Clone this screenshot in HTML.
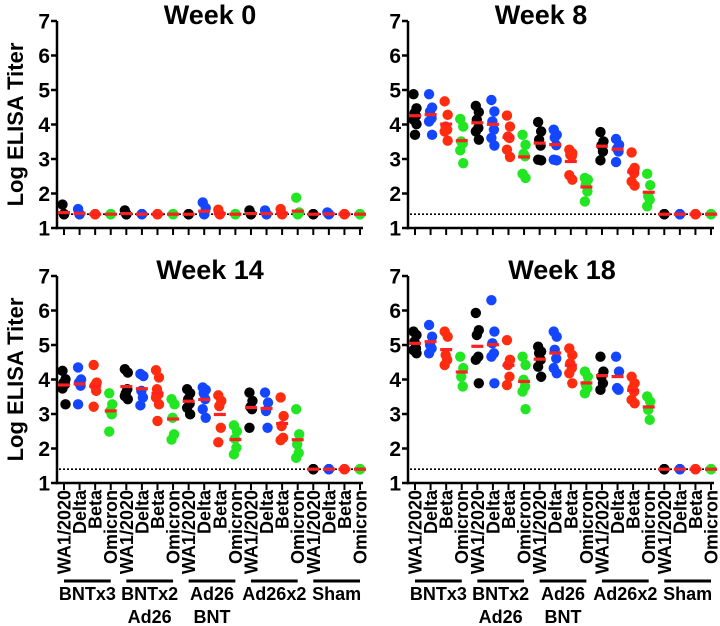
<!DOCTYPE html>
<html><head><meta charset="utf-8"><style>
body{margin:0;background:#fff}
svg{display:block;font-family:"Liberation Sans",Arial,sans-serif;font-weight:bold}
</style></head><body>
<svg id="c" width="720" height="626" viewBox="0 0 720 626" xmlns="http://www.w3.org/2000/svg"></svg>
<script>
const categories = ["WA1/2020","Delta","Beta","Omicron"];
const groups = [["BNTx3"],["BNTx2","Ad26"],["Ad26","BNT"],["Ad26x2"],["Sham"]];
const yTicks = [1,2,3,4,5,6,7];
const lod = 1.4;
const panelTitles = ["Week 0","Week 8","Week 14","Week 18"];
const L = 1.4;
const week0 = [
 [1.68,L,L,L,L,L],[1.55,L,L,L,L,L],[L,L,L,L,L,L],[L,L,L,L,L,L],
 [1.51,L,L,L,L,L],[L,L,L,L,L,L],[L,L,L,L,L,L],[L,L,L,L,L,L],
 [L,L,L,L,L,L],[1.74,1.58,L,L,L,L],[1.53,L,L,L,L,L],[L,L,L,L,L,L],
 [1.51,L,L,L,L,L],[1.51,L,L,L,L,L],[1.55,L,L,L,L,L],[1.88,1.45,L,L,L,L],
 [L,L,L,L,L,L],[1.45,L,L,L,L,L],[L,L,L,L,L,L],[L,L,L,L,L,L]];
const week8 = [
 [4.88,4.47,4.33,4.25,4.14,4.01,3.70],[4.88,4.49,4.38,4.18,4.09,3.70],[4.67,4.28,3.94,3.85,3.80,3.53],[4.16,3.94,3.51,3.45,3.25,2.88],
 [4.54,4.36,4.14,3.90,3.80,3.56],[4.71,4.38,4.09,3.85,3.61,3.39],[4.26,3.94,3.65,3.61,3.27,3.06],[3.70,3.41,3.15,3.08,2.57,2.45],
 [4.07,3.80,3.56,3.39,2.98,2.96],[3.85,3.70,3.62,3.40,2.98,2.96],[3.27,3.17,3.12,3.08,2.53,2.40],[2.45,2.40,2.26,2.06,1.77],
 [3.78,3.51,3.39,3.22,2.96],[3.58,3.41,3.30,3.22,2.91],[3.19,2.74,2.65,2.59,2.35,2.23],[2.57,2.24,1.92,1.82,1.63],
 [L,L,L,L,L,L],[L,L,L,L,L,L],[L,L,L,L,L,L],[L,L,L,L,L,L]];
const week14 = [
 [4.25,4.01,3.90,3.86,3.74,3.28],[4.35,4.00,3.91,3.82,3.28],[4.42,3.91,3.82,3.67,3.21],[3.60,3.28,3.09,2.99,2.49],
 [4.30,4.20,3.60,3.72,3.52,3.43],[4.16,4.10,3.67,3.48,3.25],[4.27,4.06,3.72,3.57,3.48,3.28,2.80],[3.43,3.28,2.89,2.41,2.26],
 [3.72,3.60,3.43,3.30,3.18,2.99],[3.77,3.70,3.60,3.43,3.14,2.89],[3.54,3.38,3.23,2.60,2.18],[2.67,2.50,2.28,2.02,1.83],
 [3.62,3.38,3.20,3.14,2.60],[3.62,3.33,3.09,2.60],[3.48,2.94,2.65,2.31,2.24],[3.14,2.41,2.12,1.87,1.73],
 [L,L,L,L,L,L],[L,L,L,L,L,L],[L,L,L,L,L,L],[L,L,L,L,L,L]];
const week18 = [
 [5.39,5.29,5.10,4.90,4.85,4.76],[5.58,5.24,5.00,4.90,4.76],[5.39,5.24,4.71,4.57,4.42],[4.66,4.33,4.08,3.80],
 [5.93,5.43,5.29,4.66,4.57,3.89],[6.30,5.39,5.05,4.76,4.66,3.89],[5.14,4.57,4.42,4.08,3.84],[4.66,4.42,3.99,3.80,3.65,3.14],
 [4.95,4.81,4.76,4.57,4.37,4.08],[5.39,5.24,4.86,4.61,4.33,4.18],[4.90,4.71,4.47,4.33,4.18,3.89],[4.23,4.08,3.84,3.75,3.60],
 [4.66,4.23,4.08,3.89,3.70],[4.66,4.23,3.75,3.70],[4.08,3.89,3.75,3.65,3.41,3.31],[3.51,3.36,3.12,2.83],
 [L,L,L,L,L,L],[L,L,L,L,L,L],[L,L,L,L,L,L],[L,L,L,L,L,L]];
const panelData = [week0, week8, week14, week18];

const NS="http://www.w3.org/2000/svg";
const svg=document.getElementById('c');
function mk(t,a,p){const e=document.createElementNS(NS,t);for(const k in a)e.setAttribute(k,a[k]);(p||svg).appendChild(e);return e;}
const colors=["#000000","#1446ff","#ff2d10","#22e622"];
const jit=[-1.5,1.5,-0.5,1,-1.5,1.5,0,0.5];
const panels=[{x0:57,c0:64,top:21,tx:210},{x0:408,c0:415,top:21,tx:541},{x0:57,c0:64,top:276,tx:210},{x0:408,c0:415,top:276,tx:562}];
const step=15.58, unit=34.5;

panels.forEach((P,pi)=>{
  const g=mk('g',{});
  
  
  const X=i=>P.c0+i*step;
  const Y=v=>P.top+(7-v)*unit;
  const t=mk('text',{x:P.tx,y:pi<2?24:279,'text-anchor':'middle','font-size':27},g);
  t.textContent=panelTitles[pi];
  
  
  const ya=mk('line',{x1:P.x0,y1:Y(7),x2:P.x0,y2:Y(1)+1.2,stroke:'#000','stroke-width':2.5},g);
  
  
  const xEnd=X(19)+3;
  const xa=mk('line',{x1:P.x0-1.2,y1:Y(1),x2:xEnd,y2:Y(1),stroke:'#000','stroke-width':2.5},g);
  
  
  yTicks.forEach(v=>{
    mk('line',{x1:P.x0-6,y1:Y(v),x2:P.x0,y2:Y(v),stroke:'#000','stroke-width':2.5},g);
    const tl=mk('text',{x:P.x0-7,y:Y(v)+7.5,'text-anchor':'end','font-size':21},g);
    tl.textContent=v;
    
    
  });
  for(let i=0;i<20;i++) mk('line',{x1:X(i),y1:Y(1),x2:X(i),y2:Y(1)+7,stroke:'#000','stroke-width':2},g);
  const dl=mk('line',{x1:P.x0+2,y1:Y(lod),x2:xEnd,y2:Y(lod),stroke:'#000','stroke-width':1.6,'stroke-dasharray':'2,2'},g);
  
  
  if(pi%2===0){
    const yt=mk('text',{x:0,y:0,'text-anchor':'middle','font-size':22,transform:`translate(23,${(Y(7)+Y(1))/2}) rotate(-90)`},g);
    yt.textContent='Log ELISA Titer';
    
    
  }
  const data=panelData[pi];
  data.forEach((vals,i)=>{
    const col=colors[i%4];
    vals.forEach((v,k)=>{
      const c=mk('circle',{cx:X(i)+(v===L?0:jit[k%8]),cy:Y(v),r:5.2,fill:col},g);
      
      
    });
    const m=vals.reduce((a,b)=>a+b,0)/vals.length;
    const b=mk('rect',{x:X(i)-6,y:Y(m)-1.6,width:12,height:3.2,fill:'#ff2020'},g);
    
    
  });
  if(pi>=2){
    for(let i=0;i<20;i++){
      const cl=mk('text',{x:0,y:0,'text-anchor':'end','font-size':18,transform:`translate(${X(i)+6.5},${Y(1)+7}) rotate(-90)`},g);
      cl.textContent=categories[i%4];
      
      
    }
    groups.forEach((gr,gi)=>{
      const gl=mk('line',{x1:X(gi*4),y1:581,x2:X(gi*4+3),y2:581,stroke:'#000','stroke-width':3},g);
      
      
      const cx=(X(gi*4)+X(gi*4+3))/2;
      gr.forEach((line,li)=>{
        const tx=mk('text',{x:cx,y:600+li*23,'text-anchor':'middle','font-size':18},g);
        tx.textContent=line;
        
        
      });
    });
  }
});
</script>
</body></html>
